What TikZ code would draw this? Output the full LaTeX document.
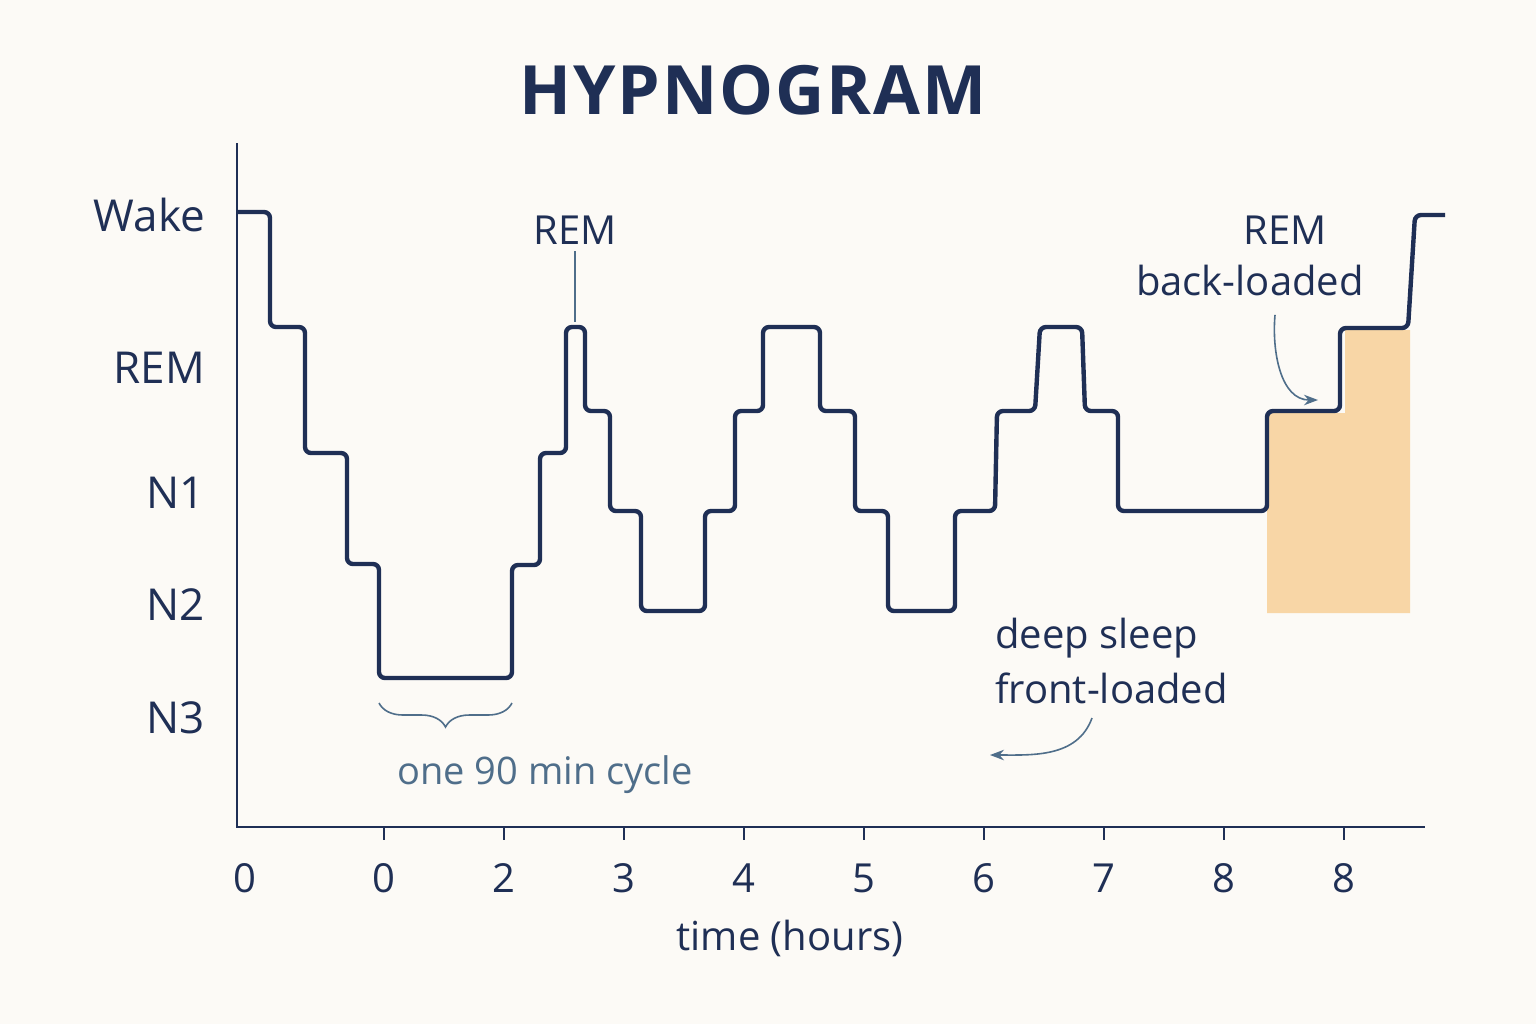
\documentclass[tikz,border=0pt]{standalone}
\usepackage{fontspec}
\setmainfont{Open Sans}
\usetikzlibrary{decorations.pathreplacing,arrows.meta}
\definecolor{bgc}{HTML}{FCFAF6}
\definecolor{navy}{HTML}{1F2F55}
\definecolor{slate}{HTML}{4F6E8A}
\definecolor{peach}{HTML}{F8D6A6}
\tikzset{
	stage/.style={anchor=east,text=navy,font=\fontsize{22}{24}\selectfont},
	tick/.style={text=navy,font=\fontsize{20}{22}\selectfont},
	note/.style={text=navy,font=\fontsize{20}{22}\selectfont},
	pointer/.style={slate,thick,-{Stealth[length=7pt]}}
}
\begin{document}
\begin{tikzpicture}[x=0.5pt,y=-0.5pt]
	\fill[bgc] (0,0) rectangle (1536,1024);
	\useasboundingbox (0,0) rectangle (1536,1024);
	
	\node[text=navy,font=\bfseries\fontsize{34}{36}\selectfont] (title) at (753,90) {H\kern1pt Y\kern1pt P\kern1pt N\kern1pt O\kern1pt G\kern1pt R\kern1pt A\kern1pt M};
	
	\fill[peach] (1267,413)--(1345,413)--(1345,330)--(1410,330)--(1410,613)--(1267,613)--cycle;
	
	% axes
	\draw[navy,line width=1.4pt] (237,143)--(237,827)--(1425,827);
	\foreach \x/\t in {384/0,504/2,624/3,744/4,864/5,984/6,1104/7,1224/8,1344/8}{
		\draw[navy,line width=1.2pt] (\x,827)--(\x,840);
		\node[tick] at (\x,878) {\t};
	}
	\node[tick] at (245,878) {0};
	\node[tick] (xlabel) at (790,938) {time (hours)};
	
	\node[stage] (wake) at (212,215) {Wake};
	\node[stage] (rem) at (212,368) {REM};
	\node[stage] (none) at (212,493) {N1};
	\node[stage] (ntwo) at (212,605) {N2};
	\node[stage] (nthree) at (212,718) {N3};
	
	% hypnogram
	\draw[navy,line width=2.2pt,rounded corners=3pt]
		(237,212)--(270,212)--(270,327)--(305,327)--(305,453)--(347,453)--(347,564)--(379,564)
		--(379,678)--(512,678)--(512,565)--(540,565)--(540,453)--(566,453)--(566,327)--(585,327)
		--(585,411)--(610,411)--(610,511)--(641,511)--(641,611)--(705,611)--(705,511)--(735,511)
		--(735,411)--(763,411)--(763,327)--(820,327)--(820,411)--(855,411)--(855,511)--(888,511)
		--(888,611)--(955,611)--(955,511)--(995,511)--(997,411)--(1035,411)--(1040,327)--(1082,327)
		--(1085,411)--(1118,411)--(1118,511)--(1267,511)--(1267,411)--(1340,411)--(1340,328)
		--(1408,328)--(1415,215)--(1445,215);
	
	\node[note] (remtop) at (575,230) {REM};
	\coordinate (remtip) at (575,322);
	\draw[slate,thick] (remtop.south)--(remtip);
	
	\node[note] (remlate) at (1285,230) {REM};
	\node[note,anchor=north] (backload) at (1250,258) {back-loaded};
	\coordinate (backtip) at (1318,400);
	\draw[pointer] (backload.south)+(25,12) to[out=-95,in=180] (backtip);
	
	\node[note,anchor=west] (deep) at (988,638) {deep sleep};
	\node[note,anchor=west] (front) at (988,688) {front-loaded};
	\coordinate (fronttip) at (990,755);
	\draw[pointer] (1092,718) to[out=-110,in=0] (fronttip);
	
	\draw[slate,thick,decorate,decoration={brace,mirror,amplitude=12pt}] (379,703)--(512,703);
	\node[text=slate,font=\fontsize{19}{21}\selectfont] (cycle) at (545,775) {one 90 min cycle};
\end{tikzpicture}
\end{document}
